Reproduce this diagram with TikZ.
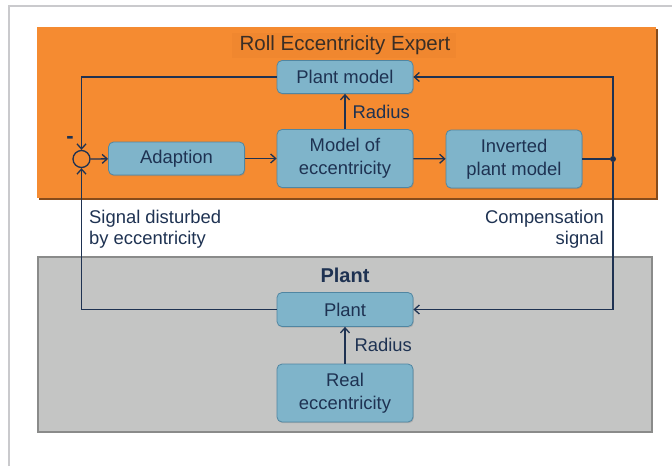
\documentclass[tikz,border=0pt]{standalone}
\usepackage{fontspec}
\setmainfont{Liberation Sans}
\usetikzlibrary{arrows.meta,shadows}
\definecolor{expertorange}{RGB}{245,139,49}
\definecolor{titleorange}{RGB}{240,135,47}
\definecolor{titleink}{RGB}{58,46,38}
\definecolor{plantgray}{RGB}{196,197,196}
\definecolor{plantedge}{RGB}{138,139,138}
\definecolor{boxblue}{RGB}{127,180,202}
\definecolor{boxedge}{RGB}{80,134,162}
\definecolor{navy}{RGB}{30,50,82}
\definecolor{framegray}{RGB}{202,202,205}
\begin{document}
\begin{tikzpicture}[x=1pt,y=-1pt,
		block/.style={draw=boxedge,fill=boxblue,line width=0.8pt,rounded corners=5pt,minimum width=136pt,align=center,inner sep=0pt,text=navy,font=\fontsize{18.4}{23}\selectfont,drop shadow={shadow xshift=0.8pt,shadow yshift=-1.2pt,opacity=0.35}},
		sig/.style={navy,line width=1.3pt},
		tip/.style={-{Straight Barb[length=5pt,width=9pt,line width=1.3pt]}},
		lbl/.style={text=navy,font=\fontsize{18.4}{21}\selectfont,inner sep=0pt}]
		\path[use as bounding box] (0,0) rectangle (672,466);
		\draw[framegray,line width=2pt] (8.5,466) -- (8.5,6) -- (672,6);
		
		\fill[expertorange!55!black] (39,29) rectangle (658,200);
		\fill[expertorange] (37,27) rectangle (656,198);
		\fill[titleorange] (232,33) rectangle (456,58);
		\node[anchor=base,inner sep=0pt,text=titleink,font=\fontsize{20.5}{24}\selectfont] (expert) at (345,50.5) {Roll Eccentricity Expert};
		
		\draw[plantedge,fill=plantgray,line width=1.5pt] (38,257) rectangle (652,432);
		\node[anchor=base,inner sep=0pt,text=navy,font=\bfseries\fontsize{20}{24}\selectfont] (plantttl) at (345,282.5) {Plant};
		
		\node[block,minimum height=33pt] (pmodel) at (345,77) {Plant model};
		\node[block,minimum height=33pt] (adapt) at (176.5,158.5) {Adaption};
		\node[block,minimum height=58pt] (ecc) at (345,158.5) {Model of\\eccentricity};
		\node[block,minimum height=58pt] (inv) at (514,159) {Inverted\\plant model};
		\node[block,minimum height=34pt] (plant) at (345,309.5) {Plant};
		\node[block,minimum height=58pt] (real) at (345,393) {Real\\eccentricity};
		
		\node[circle,draw=navy,line width=1.3pt,minimum size=17pt,inner sep=0pt] (sum) at (81.5,159) {};
		\node[circle,fill=navy,minimum size=6pt,inner sep=0pt] (jn) at (613,159) {};
		\node[anchor=base,inner sep=0pt,text=navy,font=\bfseries\fontsize{22}{24}\selectfont] (minus) at (70,143.5) {-};
		
		\draw[sig] (inv) -- (jn);
		\draw[sig,tip] (jn) |- (pmodel);
		\draw[sig,tip] (jn) |- (plant);
		\draw[sig,tip] (pmodel) -| (sum);
		\draw[sig,tip] (plant) -| (sum);
		\draw[sig,tip] (sum) -- (adapt);
		\draw[sig,tip] (adapt) -- (ecc);
		\draw[sig,tip] (ecc) -- (inv);
		\draw[sig,tip] (ecc) -- node[lbl,anchor=west,xshift=7pt] (rad1) {Radius} (pmodel);
		\draw[sig,tip] (real) -- node[lbl,anchor=west,xshift=9pt] (rad2) {Radius} (plant);
		
		\node[lbl,anchor=north west,align=left] (disturbed) at (89,209.5) {Signal disturbed\\by eccentricity};
		\node[lbl,anchor=north east,align=right] (compens) at (604,209.5) {Compensation\\signal};
	\end{tikzpicture}
\end{document}
